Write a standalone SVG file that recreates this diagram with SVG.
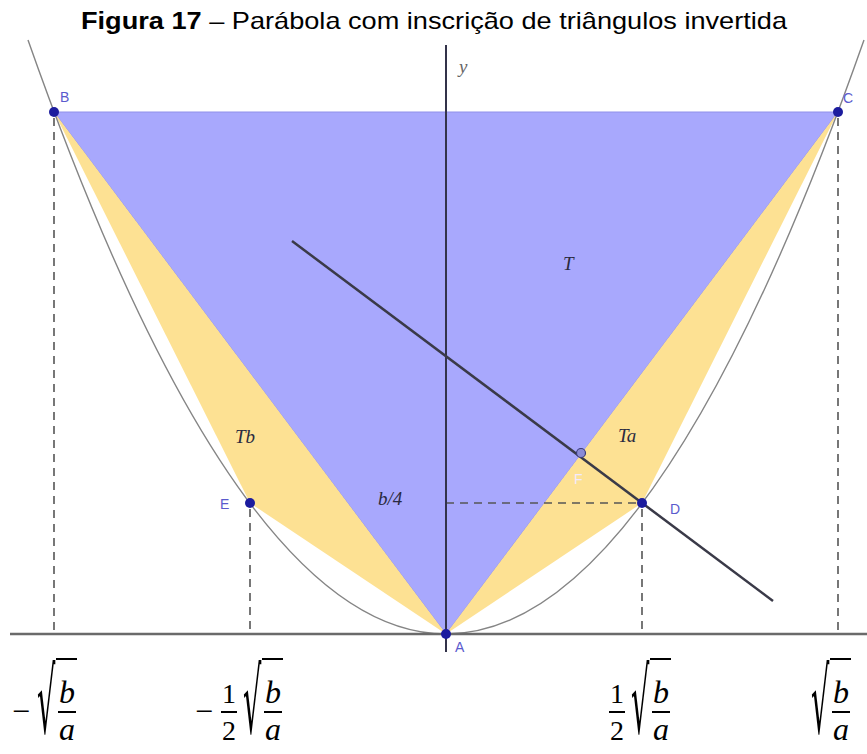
<svg xmlns="http://www.w3.org/2000/svg" width="867" height="754" viewBox="0 0 867 754">
<style>
.title{font-family:"Liberation Sans",Arial,sans-serif;font-size:24px;fill:#000}
.pt{fill:#1c1c9e}
.plbl{font-family:"Liberation Sans",Arial,sans-serif;font-size:14px;fill:#5a5acd}
.ital{font-family:"Liberation Serif","Times New Roman",serif;font-style:italic;font-size:19px;fill:#2a2a40}
.dash{stroke:#555;stroke-width:1.6;stroke-dasharray:8,6;fill:none}
.mi{font-family:"Liberation Serif","Times New Roman",serif;font-style:italic;font-size:32px;fill:#000;text-anchor:middle}
.mn{font-family:"Liberation Serif","Times New Roman",serif;font-size:28px;fill:#000;text-anchor:middle}
.mm{font-family:"Liberation Serif","Times New Roman",serif;font-size:32px;fill:#000}
.rad{font-family:"DejaVu Sans",sans-serif;font-size:90px;fill:#000}
.bar{stroke:#000;stroke-width:2}
</style>
<rect width="867" height="754" fill="#fff"/>
<text class="title" x="81" y="29" textLength="706" lengthAdjust="spacingAndGlyphs"><tspan font-weight="bold">Figura 17</tspan> – Parábola com inscrição de triângulos invertida</text>

<g id="triangle-T"><polygon points="446,634 54,112 838,112" fill="#a8a8fd" stroke="#9090ea" stroke-width="1"/></g>
<g id="triangle-Tb"><polygon points="446,634 54,112 250,503" fill="#fde193"/></g>
<g id="triangle-Ta"><polygon points="446,634 838,112 642,503" fill="#fde193"/></g>

<g id="parabola"><path d="M28,40 Q446,1228 864,40" fill="none" stroke="#858585" stroke-width="1.4"/></g>

<g id="connectors">
<line class="dash" x1="54" y1="118" x2="54" y2="634"/>
<line class="dash" x1="838" y1="118" x2="838" y2="634"/>
<line class="dash" x1="250" y1="509" x2="250" y2="634"/>
<line class="dash" x1="642" y1="509" x2="642" y2="634"/>
<line class="dash" x1="446" y1="503" x2="638" y2="503"/>
<line x1="10" y1="634" x2="867" y2="634" stroke="#6a6a6a" stroke-width="2.5"/>
<line x1="446" y1="45" x2="446" y2="652" stroke="#33334a" stroke-width="2"/>
<line x1="292" y1="241" x2="773" y2="601" stroke="#3a3a48" stroke-width="2.5"/>
</g>

<g id="point-A"><circle class="pt" cx="446" cy="634" r="5"/><text class="plbl" x="455" y="652">A</text></g>
<g id="point-B"><circle class="pt" cx="54" cy="112" r="5"/><text class="plbl" x="60" y="102">B</text></g>
<g id="point-C"><circle class="pt" cx="838" cy="112" r="5"/><text class="plbl" x="843" y="103">C</text></g>
<g id="point-D"><circle class="pt" cx="642" cy="503" r="5"/><text class="plbl" x="670" y="514">D</text></g>
<g id="point-E"><circle class="pt" cx="250" cy="503" r="5"/><text class="plbl" x="220" y="509">E</text></g>
<g id="point-F"><circle cx="581" cy="453" r="4.5" fill="#8a8ad6" stroke="#3c3c7a" stroke-width="1.2"/><text class="plbl" x="574" y="484" style="fill:#f2eaff">F</text></g>

<g id="labels">
<text class="ital" x="459" y="73" style="fill:#666">y</text>
<text class="ital" x="563" y="270">T</text>
<text class="ital" x="235" y="443">Tb</text>
<text class="ital" x="618" y="442">Ta</text>
<text class="ital" x="378" y="505">b/4</text>
</g>

<g id="tick-labels">
<g id="lbl-neg-sqrt">
<text class="mm" x="12" y="722">−</text>
<text class="rad" transform="translate(37,733) scale(0.32,1)">√</text>
<line class="bar" x1="56" y1="659" x2="77" y2="659"/>
<text class="mi" x="67" y="703">b</text>
<line class="bar" x1="58" y1="712" x2="76" y2="712"/>
<text class="mi" x="67" y="740">a</text>
</g>
<g id="lbl-neg-half-sqrt">
<text class="mm" x="195" y="722">−</text>
<text class="mn" x="229" y="703">1</text>
<line class="bar" x1="221" y1="712" x2="237" y2="712"/>
<text class="mn" x="229" y="740">2</text>
<text class="rad" transform="translate(243,733) scale(0.32,1)">√</text>
<line class="bar" x1="262" y1="659" x2="283" y2="659"/>
<text class="mi" x="273" y="703">b</text>
<line class="bar" x1="264" y1="712" x2="282" y2="712"/>
<text class="mi" x="273" y="740">a</text>
</g>
<g id="lbl-half-sqrt">
<text class="mn" x="617" y="703">1</text>
<line class="bar" x1="609" y1="712" x2="625" y2="712"/>
<text class="mn" x="617" y="740">2</text>
<text class="rad" transform="translate(631,733) scale(0.32,1)">√</text>
<line class="bar" x1="650" y1="659" x2="671" y2="659"/>
<text class="mi" x="661" y="703">b</text>
<line class="bar" x1="652" y1="712" x2="670" y2="712"/>
<text class="mi" x="661" y="740">a</text>
</g>
<g id="lbl-sqrt">
<text class="rad" transform="translate(811,733) scale(0.32,1)">√</text>
<line class="bar" x1="830" y1="659" x2="851" y2="659"/>
<text class="mi" x="841" y="703">b</text>
<line class="bar" x1="832" y1="712" x2="850" y2="712"/>
<text class="mi" x="841" y="740">a</text>
</g>
</g>
</svg>
